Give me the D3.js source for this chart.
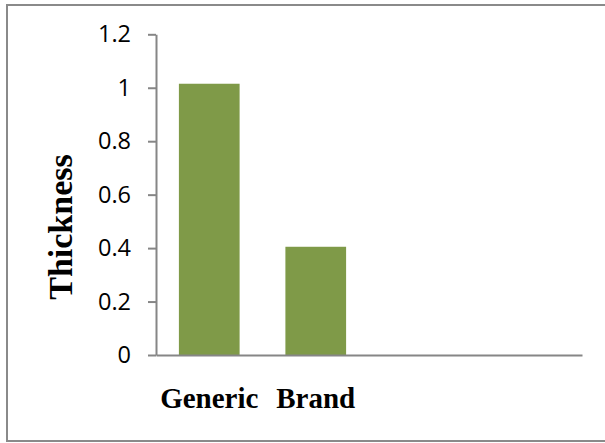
<!DOCTYPE html>
<html>
<head>
<meta charset="utf-8">
<script src="https://cdn.jsdelivr.net/npm/d3@7"></script>
<style>
  body { margin: 0; background: #fff; }
</style>
</head>
<body>
<figure id="bar" style="margin:0"></figure>
<script>
// chart data
const categories = ["Generic", "Brand", "", " "];
const thickness = [1.015, 0.405, null, null];
const yTicks = [0, 0.2, 0.4, 0.6, 0.8, 1, 1.2];
const yTickLabels = ["0", "0.2", "0.4", "0.6", "0.8", "1", "1.2"];

const width = 605, height = 443;
const margin = { top: 34.3, right: 23, bottom: 88, left: 156 };

const svg = d3.select("figure#bar")
  .append("svg")
  .attr("width", width)
  .attr("height", height);

// outer frame
svg.append("rect")
  .attr("x", 7).attr("y", 5)
  .attr("width", 610).attr("height", 436)
  .attr("fill", "none")
  .attr("stroke", "#8a8a8a")
  .attr("stroke-width", 2);

const x = d3.scaleBand()
  .domain(categories)
  .range([margin.left, width - margin.right])
  .paddingInner(0.43)
  .paddingOuter(0.215);

const y = d3.scaleLinear()
  .domain([0, 1.2])
  .range([height - margin.bottom, margin.top]);

// bars
const data = categories.map((c, i) => ({ cat: c, val: thickness[i] })).filter(d => d.val != null);
svg.selectAll("rect.bar")
  .data(data)
  .enter()
  .append("rect")
  .attr("class", "bar")
  .attr("x", d => x(d.cat))
  .attr("y", d => y(d.val))
  .attr("width", x.bandwidth())
  .attr("height", d => y(0) - y(d.val))
  .attr("fill", "#7f9a48");

// y axis
const yAxis = svg.append("g")
  .attr("transform", "translate(" + margin.left + ",0)")
  .call(d3.axisLeft(y)
    .tickValues(yTicks)
    .tickFormat((d, i) => yTickLabels[i])
    .tickSize(8)
    .tickSizeOuter(0)
    .tickPadding(17));
yAxis.selectAll("path, line").attr("stroke", "#868686").attr("stroke-width", 2);
yAxis.selectAll("text")
  .attr("fill", "#000")
  .style("font-family", "'Open Sans', sans-serif")
  .style("font-size", "23.5px");

// x axis
const xAxis = svg.append("g")
  .attr("transform", "translate(0," + y(0) + ")")
  .call(d3.axisBottom(x).tickSize(0).tickSizeOuter(0).tickFormat(""));
xAxis.select("path").attr("stroke", "#868686").attr("stroke-width", 2);

svg.append("g")
  .selectAll("text")
  .data(categories.filter((c, i) => thickness[i] != null))
  .enter()
  .append("text")
  .attr("x", d => x(d) + x.bandwidth() / 2)
  .attr("y", 408)
  .attr("text-anchor", "middle")
  .style("font-family", "'Liberation Serif', serif")
  .style("font-weight", "bold")
  .style("font-size", "29px")
  .text(d => d);

// y label
svg.append("text")
  .attr("transform", "translate(72,227)rotate(-90)")
  .attr("text-anchor", "middle")
  .style("font-family", "'Liberation Serif', serif")
  .style("font-weight", "bold")
  .style("font-size", "34px")
  .text("Thickness");
</script>
</body>
</html>
